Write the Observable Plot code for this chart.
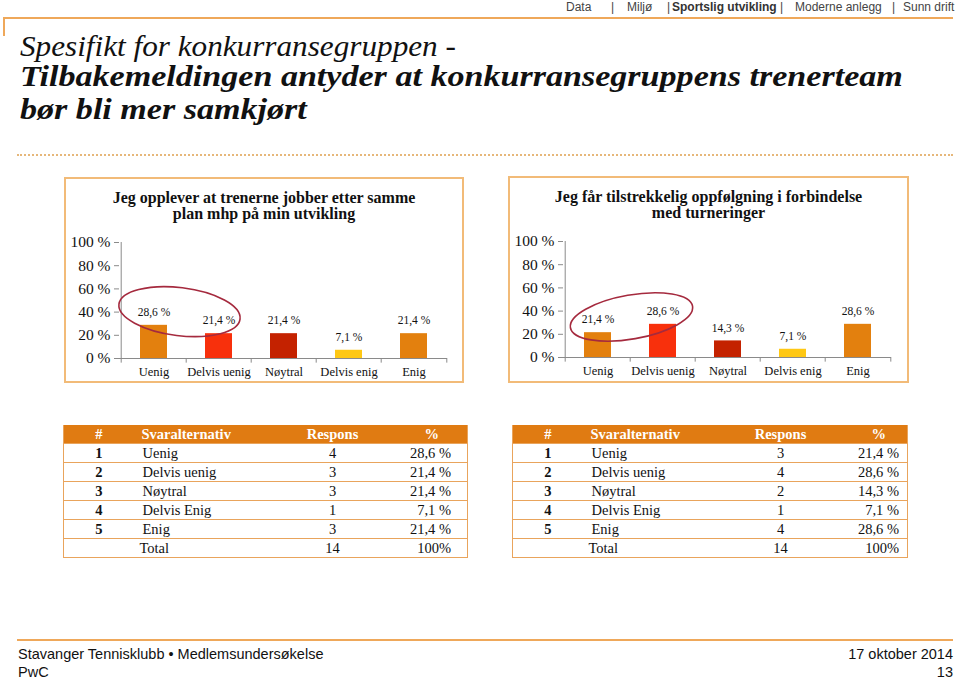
<!DOCTYPE html>
<html>
<head>
<meta charset="utf-8">
<script src="https://cdn.jsdelivr.net/npm/d3@7"></script>
<script src="https://cdn.jsdelivr.net/npm/@observablehq/plot@0.6"></script>
<style>
  html, body { margin: 0; padding: 0; background: #fff; }
  #page { position: relative; width: 959px; height: 680px; overflow: hidden; font-family: "Liberation Serif", serif; color: #111; }
  .abs { position: absolute; }
  .nav { font-family: "Liberation Sans", Arial, sans-serif; font-size: 12px; color: #444; top: 0px; white-space: nowrap; }
  .title { left: 20px; font-family: "Liberation Serif", serif; font-style: italic; white-space: nowrap; color: #111; transform-origin: 0 50%; }
  .box { border: 2px solid #F2BB78; box-sizing: border-box; }
  .ctitle { font-weight: bold; font-size: 16px; line-height: 16px; text-align: center; color: #111; }
  table { border-collapse: collapse; font-family: "Liberation Serif", serif; font-size: 14.5px; color: #111; table-layout: fixed; }
  th { background: #E07B12; color: #fff; font-weight: bold; height: 18px; padding: 0; line-height: 18px; }
  td { height: 18px; padding: 0; line-height: 18px; border-top: 1px solid #E9A45C; }
  table { border-left: 1px solid #E9A45C; border-right: 1px solid #E9A45C; border-bottom: 1px solid #E9A45C; }
  .foot { font-family: "Liberation Sans Narrow", "Liberation Sans", Arial, sans-serif; font-size: 14.5px; color: #111; white-space: nowrap; }
</style>
</head>
<body>
<div id="page"></div>
<script>
// ---- data ----
const navItems = ["Data", "Miljø", "Sportslig utvikling", "Moderne anlegg", "Sunn drift"];
const titleLines = ["Spesifikt for konkurransegruppen -", "Tilbakemeldingen antyder at konkurransegruppens trenerteam", "bør bli mer samkjørt"];
const categories = ["Uenig", "Delvis uenig", "Nøytral", "Delvis enig", "Enig"];
const tableLabels = ["Uenig", "Delvis uenig", "Nøytral", "Delvis Enig", "Enig"];
const barColors = ["#E3800E", "#F8300C", "#C42200", "#FFC814", "#E3800E"];
const chart1Title = ["Jeg opplever at trenerne jobber etter samme", "plan mhp på min utvikling"];
const chart1Values = [28.6, 21.4, 21.4, 7.1, 21.4];
const chart1Counts = [4, 3, 3, 1, 3];
const chart2Title = ["Jeg får tilstrekkelig oppfølgning i forbindelse", "med turneringer"];
const chart2Values = [21.4, 28.6, 14.3, 7.1, 28.6];
const chart2Counts = [3, 4, 2, 1, 4];
const yTicks = [0, 20, 40, 60, 80, 100];
const tableHeader = ["#", "Svaralternativ", "Respons", "%"];
const totalLabel = "Total";
const totalPct = "100%";
const footerLeft = ["Stavanger Tennisklubb • Medlemsundersøkelse", "PwC"];
const footerRight = ["17 oktober 2014", "13"];

const page = document.getElementById("page");
function el(tag, cls, style, text) {
  const e = document.createElement(tag);
  if (cls) e.className = cls;
  if (style) e.setAttribute("style", style);
  if (text != null) e.textContent = text;
  page.appendChild(e);
  return e;
}
const fmt = v => v.toFixed(1).replace(".", ",") + " %";

// ---- header ----
const navLeft = [566, 627, 672, 795, 903];
const sepLeft = [611, 667, 780, 892];
navItems.forEach((t, i) => {
  el("div", "abs nav", `left:${navLeft[i]}px;` + (i === 2 ? "font-weight:bold;color:#333;" : ""), t);
});
sepLeft.forEach(x => el("div", "abs nav", `left:${x}px;`, "|"));
el("div", "abs", "left:3px;top:17px;width:950px;height:0;border-top:2px solid #EFA85A;");
el("div", "abs", "left:3px;top:17px;width:0;height:19px;border-left:2px solid #EFA85A;");
const titleStyles = [
  "top:31px;font-size:30px;line-height:29px;transform:scaleX(1.04);",
  "top:61px;font-size:29.5px;line-height:30px;font-weight:bold;transform:scaleX(1.155);",
  "top:94px;font-size:29.5px;line-height:30px;font-weight:bold;transform:scaleX(1.155);"
];
titleLines.forEach((t, i) => el("div", "abs title", titleStyles[i], t));
el("div", "abs", "left:17px;top:154px;width:936px;height:0;border-top:2px dotted #E6B77A;");

// ---- charts ----
function makeChart(values, titleArr, left, top, boxW, boxH, marginRight, ell) {
  el("div", "abs box", `left:${left}px;top:${top}px;width:${boxW}px;height:${boxH}px;`);
  el("div", "abs ctitle", `left:${left}px;top:${top + 13}px;width:${boxW}px;`).innerHTML = titleArr.join("<br>");
  const data = categories.map((c, i) => ({cat: c, value: values[i], color: barColors[i]}));
  const plotW = boxW;
  const step = (plotW - 55 - marginRight) / categories.length;
  const chart = Plot.plot({
    width: plotW, height: 152,
    marginLeft: 55, marginRight: marginRight, marginTop: 10, marginBottom: 26,
    style: {fontFamily: "Liberation Serif, serif", fontSize: "12.5px", color: "#111", background: "transparent", overflow: "visible"},
    x: {domain: categories, paddingInner: 0.59, paddingOuter: 0.295, label: null},
    y: {domain: [0, 100], label: null},
    marks: [
      Plot.axisY({ticks: yTicks, tickFormat: d => d + " %", tickSize: 5, tickPadding: 4, fontSize: 15.5, stroke: "#8a8a8a"}),
      Plot.axisX({tickSize: 0, tickPadding: 9, fontSize: 12.5}),
      Plot.barY(data, {x: "cat", y: "value", fill: "color"}),
      Plot.ruleX([categories[0]], {x: d => d, y1: 0, y2: 100, dx: -step / 2, stroke: "#8a8a8a"}),
      Plot.ruleY([0], {stroke: "#8a8a8a"}),
      Plot.ruleX(categories, {x: d => d, y1: 0, y2: -4, dx: -step / 2, stroke: "#8a8a8a"}),
      Plot.ruleX([categories[categories.length - 1]], {x: d => d, y1: 0, y2: -4, dx: step / 2, stroke: "#8a8a8a"}),
      Plot.text(data, {x: "cat", y: "value", text: d => fmt(d.value), dy: -13, fontSize: 11.5}),
      (index, scales) => {
        const x = scales.x, y = scales.y;
        const bw = x.bandwidth ? x.bandwidth() : 0;
        const c0 = x(categories[0]) + bw / 2, c1 = x(categories[1]) + bw / 2;
        const cx = (c0 + c1) / 2 + ell.dx, cy = y(ell.v);
        const ns = "http://www.w3.org/2000/svg";
        const g = document.createElementNS(ns, "g");
        const e = document.createElementNS(ns, "ellipse");
        e.setAttribute("cx", cx); e.setAttribute("cy", cy);
        e.setAttribute("rx", (c1 - c0) / 2 + ell.extra); e.setAttribute("ry", ell.ry);
        e.setAttribute("transform", `rotate(${ell.rot} ${cx} ${cy})`);
        e.setAttribute("fill", "none"); e.setAttribute("stroke", "#A52A3E"); e.setAttribute("stroke-width", "1.6");
        g.appendChild(e);
        return g;
      }
    ]
  });
  chart.style.position = "absolute";
  chart.style.left = left + "px";
  chart.style.top = (top + 55) + "px";
  page.appendChild(chart);
}
makeChart(chart1Values, chart1Title, 64, 177, 400, 206, 17, {dx: -6.5, v: 40, extra: 28.5, ry: 24, rot: 7});
makeChart(chart2Values, chart2Title, 508, 176, 401, 207, 18, {dx: 1.5, v: 34.5, extra: 29.5, ry: 22, rot: -10});

// ---- tables ----
function makeTable(values, counts, left, width, cols, pctPad, headPctPad) {
  const t = document.createElement("table");
  t.className = "abs";
  t.setAttribute("style", `left:${left}px;top:425px;width:${width}px;`);
  const cg = document.createElement("colgroup");
  cols.forEach(w => { const c = document.createElement("col"); c.style.width = w + "px"; cg.appendChild(c); });
  t.appendChild(cg);
  const hr = document.createElement("tr");
  tableHeader.forEach((h, i) => {
    const th = document.createElement("th");
    th.textContent = h;
    th.style.textAlign = i === 1 ? "left" : (i === 3 ? "right" : "center");
    if (i === 1) th.style.paddingLeft = "8px";
    if (i === 3) th.style.paddingRight = headPctPad + "px";
    hr.appendChild(th);
  });
  t.appendChild(hr);
  const rows = tableLabels.map((l, i) => [String(i + 1), l, String(counts[i]), fmt(values[i])]);
  rows.push(["", totalLabel, String(d3.sum(counts)), totalPct]);
  rows.forEach((r, ri) => {
    const tr = document.createElement("tr");
    r.forEach((v, i) => {
      const td = document.createElement("td");
      td.textContent = v;
      td.style.textAlign = i === 1 ? "left" : (i === 3 ? "right" : "center");
      if (i === 0) td.style.fontWeight = "bold";
      if (i === 1) td.style.paddingLeft = (ri === rows.length - 1 ? 6 : 9) + "px";
      if (i === 3) td.style.paddingRight = pctPad + "px";
      tr.appendChild(td);
    });
    t.appendChild(tr);
  });
  page.appendChild(t);
}
makeTable(chart1Values, chart1Counts, 63, 404, [70, 157, 84, 93], 16, 28);
makeTable(chart2Values, chart2Counts, 512, 395, [70, 156, 84, 85], 8, 21);

// ---- footer ----
el("div", "abs", "left:17px;top:639px;width:936px;height:0;border-top:2px solid #EFA85A;");
footerLeft.forEach((t, i) => el("div", "abs foot", `left:18px;top:${646 + i * 18}px;`, t));
footerRight.forEach((t, i) => el("div", "abs foot", `right:6px;top:${646 + i * 18}px;text-align:right;`, t));
</script>
</body>
</html>
